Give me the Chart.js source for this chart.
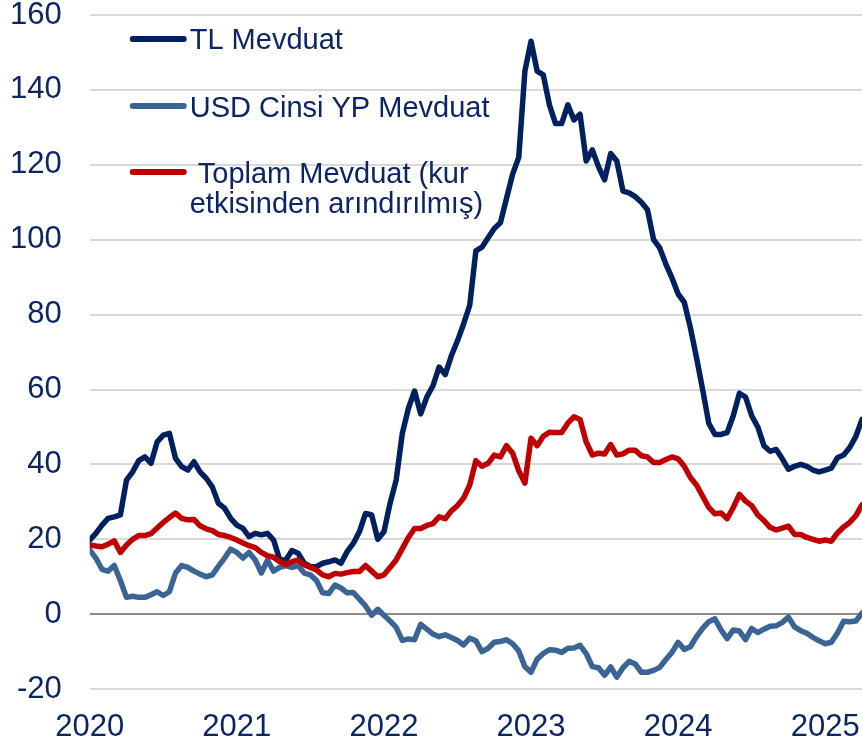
<!DOCTYPE html>
<html>
<head>
<meta charset="utf-8">
<script src="https://cdn.jsdelivr.net/npm/chart.js@4/dist/chart.umd.min.js"></script>
<style>
  html, body { margin: 0; padding: 0; background: #fff; overflow: hidden; }
  #wrap { width: 862px; height: 743px; position: relative; }
</style>
</head>
<body>
<div id="wrap"><canvas id="depositChart"></canvas></div>
<script>
// semi-monthly observations, Jan 2020 .. early Apr 2025 (annual % change)
const startYear = 2020;
const pointsPerYear = 24;
const yearTicks = [2020, 2021, 2022, 2023, 2024, 2025];

const seriesNames = ['TL Mevduat', 'USD Cinsi YP Mevduat', ' Toplam Mevduat (kur\netkisinden arındırılmış)'];

const tlDeposits = [
    19.8, 21.6, 23.8, 25.6, 26, 26.5, 35.8, 38, 41, 42, 40.3, 46, 47.8, 48.3, 41.6, 39.4, 38.5, 40.7, 38, 36.3, 34, 29.6, 28.3, 25.6,
    23.8, 22.9, 20.7, 21.6, 21.2, 21.6, 19.8, 14.5, 14.5, 17, 16.3, 13.6, 12.7, 12.7, 13.6, 14, 14.5, 13.6, 16.7, 18.9, 22, 26.9, 26.5, 20,
    22, 29.6, 35.8, 48.3, 55, 59.6, 53.5, 58, 61, 66, 64, 69, 73, 77.5, 82.5, 97, 98, 100.5, 103, 104.5, 111, 117.5, 122, 145,
    153, 145, 144, 136, 131, 131, 136, 132, 133.5, 121, 124, 119.5, 116, 123, 121, 113, 112.5, 111.5, 110, 108, 100, 97.8, 93.5, 89.8,
    85.5, 83.3, 76.5, 68.5, 60, 51, 48, 48, 48.5, 53, 59, 58, 53, 50, 45, 43.5, 44, 41.5, 38.7, 39.5, 40, 39.5, 38.5, 38,
    38.5, 39, 41.8, 42.5, 44.5, 47.5, 52
];

const usdDeposits = [
    17.2, 15, 12, 11.5, 13, 9, 4.5, 4.8, 4.5, 4.5, 5.2, 6, 5, 6, 11, 13, 12.5, 11.5, 10.7, 10, 10.5, 12.8, 15, 17.4,
    16.5, 15, 16.5, 14.5, 11, 14.4, 11.5, 12.5, 13, 12.5, 13, 11, 10.5, 9, 5.7, 5.5, 7.8, 7, 5.7, 5.8, 4, 2.2, -0.3, 1.3,
    -0.3, -1.8, -3.5, -7, -6.6, -6.8, -2.7, -4, -5.3, -6, -5.5, -6.2, -7, -8.2, -6.4, -7.1, -10, -9.1, -7.5, -7.3, -6.8, -7.9, -9.8, -14,
    -15.5, -12, -10.5, -9.5, -9.6, -10.2, -9.1, -9, -8.3, -10.5, -14, -14.3, -16.3, -14.1, -16.8, -14.3, -12.6, -13.3, -15.5, -15.5, -15, -14.2, -12.1, -10.2,
    -7.5, -9.4, -8.7, -6, -3.8, -2, -1.2, -4.2, -6.5, -4.2, -4.5, -6.8, -3.8, -4.9, -4, -3.2, -3.1, -2.2, -0.8, -3.4, -4.4, -5.1, -6.2, -7.1,
    -7.9, -7.5, -5, -1.9, -2, -1.8, 0.3
];

const totalDeposits = [
    18.5, 18.2, 18, 18.7, 19.6, 16.5, 18.5, 20, 21, 21, 21.5, 23, 24.5, 25.8, 27, 25.6, 25.2, 25.3, 23.6, 22.8, 22.3, 21.3, 21, 20.5,
    19.8, 19, 18.3, 17.8, 16.5, 15.6, 15.2, 14, 13.3, 14, 14.5, 13.2, 12.5, 11.8, 10.5, 10, 10.9, 10.7, 11.1, 11.4, 11.4, 13, 11.5, 10,
    10.5, 12.5, 14.5, 17.5, 20.5, 22.9, 22.9, 23.7, 24.2, 26, 25.5, 27.6, 29, 31, 34.5, 41, 39.5, 40.3, 42.5, 42, 45, 43, 38.3, 35,
    47, 45, 47.5, 48.6, 48.5, 48.5, 51, 52.7, 52, 46, 42.5, 43, 42.8, 45.3, 42.5, 42.8, 43.8, 43.8, 42.3, 42, 40.5, 40.5, 41.3, 42,
    41.5, 39.5, 36.5, 34.5, 31.5, 28.5, 26.8, 27, 25.5, 28.5, 32, 30.2, 29, 26.5, 25, 23.2, 22.5, 23, 23.5, 21.3, 21.3, 20.5, 20, 19.5,
    19.8, 19.5, 21.7, 23.3, 24.5, 26.3, 29.2
];

const seriesColors = ['#002060', '#3a6496', '#c00000'];
const textColor = '#0b2566';
const fontFamily = '"Liberation Sans", Arial, Helvetica, sans-serif';

function toPoints(values) {
    return values.map((v, i) => ({ x: startYear + i / pointsPerYear, y: v }));
}

const lastX = startYear + (tlDeposits.length - 1) / pointsPerYear;

// legend drawn inside the plot area, upper left
const insideLegend = {
    id: 'insideLegend',
    afterDraw(chart) {
        const ctx = chart.ctx;
        const top = chart.chartArea.top;
        const left = chart.chartArea.left;
        const rows = [
            { line: top + 24, base: top + 34 },
            { line: top + 91, base: top + 102 },
            { line: top + 157, base: top + 168 }
        ];
        ctx.save();
        ctx.font = '29px ' + fontFamily;
        ctx.textBaseline = 'alphabetic';
        ctx.textAlign = 'left';
        chart.data.datasets.forEach((ds, k) => {
            const r = rows[k];
            ctx.strokeStyle = ds.borderColor;
            ctx.lineWidth = 6;
            ctx.lineCap = 'round';
            ctx.beginPath();
            ctx.moveTo(left + 43, r.line);
            ctx.lineTo(left + 94, r.line);
            ctx.stroke();
            ctx.fillStyle = textColor;
            ds.label.split('\n').forEach((txt, j) => {
                ctx.fillText(txt, left + 100, r.base + j * 30);
            });
        });
        ctx.restore();
    }
};

new Chart(document.getElementById('depositChart'), {
    type: 'line',
    data: {
        datasets: [
            {
                label: seriesNames[0],
                data: toPoints(tlDeposits),
                borderColor: seriesColors[0],
                order: 3
            },
            {
                label: seriesNames[1],
                data: toPoints(usdDeposits),
                borderColor: seriesColors[1],
                order: 2
            },
            {
                label: seriesNames[2],
                data: toPoints(totalDeposits),
                borderColor: seriesColors[2],
                order: 1
            }
        ]
    },
    options: {
        responsive: true,
        maintainAspectRatio: false,
        animation: false,
        layout: {
            padding: { left: 10, top: 15, right: 0, bottom: 2 }
        },
        elements: {
            point: { radius: 0 },
            line: { borderWidth: 5.5, tension: 0, borderJoinStyle: 'round', borderCapStyle: 'round' }
        },
        plugins: {
            legend: { display: false },
            tooltip: { enabled: false }
        },
        scales: {
            x: {
                type: 'linear',
                min: startYear,
                max: lastX,
                border: { display: false },
                grid: { color: 'rgba(0,0,0,0)', tickColor: 'rgba(0,0,0,0)', drawTicks: true, tickLength: 24 },
                afterBuildTicks: axis => {
                    axis.ticks = yearTicks.map(v => ({ value: v }));
                },
                ticks: {
                    autoSkip: false,
                    maxRotation: 0,
                    padding: 0,
                    color: textColor,
                    font: { family: fontFamily, size: 31, lineHeight: 0.9 },
                    callback: v => String(Math.round(v))
                }
            },
            y: {
                min: -20,
                max: 160,
                border: { display: false },
                grid: {
                    drawTicks: true,
                    tickLength: 28,
                    tickColor: 'rgba(0,0,0,0)',
                    lineWidth: 2,
                    color: c => (c.tick && c.tick.value === 0 ? '#8c8c8c' : '#d9d9d9')
                },
                ticks: {
                    stepSize: 20,
                    padding: 0,
                    color: textColor,
                    font: { family: fontFamily, size: 31, lineHeight: 0.9 }
                }
            }
        }
    },
    plugins: [insideLegend]
});
</script>
</body>
</html>
